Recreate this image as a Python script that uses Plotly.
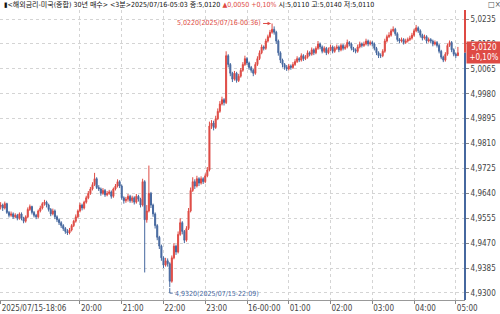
import plotly.graph_objects as go
import pandas as pd

# ---------------- data ----------------
start_time = "2025-07-15 18:06"
n_candles = 220
times = pd.date_range(start_time, periods=n_candles, freq="3min")

opens = [
    4.9595, 4.9600, 4.9590, 4.9605, 4.9575, 4.9565, 4.9570, 4.9560, 4.9565, 4.9555,
    4.9570, 4.9555, 4.9545, 4.9560, 4.9585, 4.9595, 4.9575, 4.9565, 4.9560, 4.9580,
    4.9590, 4.9605, 4.9610, 4.9600, 4.9585, 4.9570, 4.9580, 4.9560, 4.9550, 4.9540,
    4.9530, 4.9520, 4.9510, 4.9505, 4.9515, 4.9530, 4.9545, 4.9560, 4.9580, 4.9600,
    4.9590, 4.9610, 4.9625, 4.9640, 4.9655, 4.9670, 4.9690, 4.9660, 4.9655, 4.9640,
    4.9650, 4.9635, 4.9640, 4.9645, 4.9630, 4.9655, 4.9665, 4.9680, 4.9665, 4.9625,
    4.9615, 4.9620, 4.9630, 4.9615, 4.9625, 4.9610, 4.9630, 4.9620, 4.9600, 4.9680,
    4.9550, 4.9580, 4.9640, 4.9600, 4.9570, 4.9530, 4.9490, 4.9460, 4.9420, 4.9395,
    4.9410, 4.9400, 4.9340, 4.9420, 4.9460, 4.9440, 4.9500, 4.9540, 4.9510, 4.9480,
    4.9520, 4.9580, 4.9650, 4.9680, 4.9665, 4.9690, 4.9675, 4.9690, 4.9680, 4.9700,
    4.9720, 4.9870, 4.9880, 4.9865, 4.9895, 4.9920, 4.9945, 4.9960, 4.9950, 5.0110,
    5.0080, 5.0050, 5.0030, 5.0050, 5.0025, 5.0040, 5.0060, 5.0080, 5.0100, 5.0085,
    5.0070, 5.0060, 5.0050, 5.0080, 5.0100, 5.0120, 5.0140, 5.0135, 5.0160, 5.0175,
    5.0190, 5.0200, 5.0190, 5.0160, 5.0120, 5.0095, 5.0080, 5.0070, 5.0065, 5.0075,
    5.0070, 5.0080, 5.0090, 5.0100, 5.0095, 5.0110, 5.0100, 5.0105, 5.0120, 5.0115,
    5.0130, 5.0120, 5.0135, 5.0150, 5.0140, 5.0125, 5.0135, 5.0120, 5.0130, 5.0140,
    5.0125, 5.0135, 5.0140, 5.0130, 5.0145, 5.0135, 5.0140, 5.0155, 5.0150, 5.0135,
    5.0130, 5.0125, 5.0140, 5.0150, 5.0145, 5.0150, 5.0160, 5.0150, 5.0155, 5.0150,
    5.0135, 5.0120, 5.0110, 5.0110, 5.0125, 5.0160, 5.0175, 5.0180, 5.0195, 5.0200,
    5.0185, 5.0165, 5.0160, 5.0165, 5.0155, 5.0160, 5.0165, 5.0170, 5.0180, 5.0195,
    5.0205, 5.0195, 5.0180, 5.0170, 5.0175, 5.0160, 5.0165, 5.0160, 5.0150, 5.0155,
    5.0145, 5.0125, 5.0105, 5.0095, 5.0115, 5.0145, 5.0155, 5.0130, 5.0115, 5.0110,
]

highs = [
    4.9610, 4.9605, 4.9612, 4.9608, 4.9580, 4.9578, 4.9575, 4.9572, 4.9570, 4.9575,
    4.9575, 4.9560, 4.9565, 4.9592, 4.9602, 4.9598, 4.9580, 4.9570, 4.9585, 4.9598,
    4.9610, 4.9618, 4.9615, 4.9605, 4.9590, 4.9588, 4.9585, 4.9565, 4.9555, 4.9545,
    4.9535, 4.9525, 4.9518, 4.9522, 4.9535, 4.9550, 4.9568, 4.9585, 4.9608, 4.9605,
    4.9615, 4.9632, 4.9648, 4.9662, 4.9678, 4.9710, 4.9695, 4.9668, 4.9660, 4.9658,
    4.9655, 4.9648, 4.9652, 4.9650, 4.9660, 4.9672, 4.9688, 4.9685, 4.9670, 4.9630,
    4.9628, 4.9638, 4.9635, 4.9632, 4.9630, 4.9638, 4.9635, 4.9625, 4.9690, 4.9685,
    4.9600, 4.9735, 4.9645, 4.9605, 4.9575, 4.9535, 4.9495, 4.9465, 4.9425, 4.9420,
    4.9418, 4.9405, 4.9428, 4.9470, 4.9465, 4.9510, 4.9555, 4.9545, 4.9515, 4.9528,
    4.9590, 4.9660, 4.9695, 4.9688, 4.9700, 4.9695, 4.9698, 4.9695, 4.9708, 4.9730,
    4.9885, 4.9890, 4.9888, 4.9905, 4.9930, 4.9955, 4.9970, 4.9965, 5.0125, 5.0115,
    5.0085, 5.0055, 5.0058, 5.0055, 5.0048, 5.0068, 5.0088, 5.0110, 5.0105, 5.0090,
    5.0075, 5.0065, 5.0088, 5.0108, 5.0128, 5.0148, 5.0145, 5.0168, 5.0182, 5.0198,
    5.0220, 5.0210, 5.0195, 5.0165, 5.0125, 5.0100, 5.0085, 5.0078, 5.0082, 5.0080,
    5.0088, 5.0098, 5.0108, 5.0105, 5.0118, 5.0115, 5.0112, 5.0128, 5.0125, 5.0138,
    5.0135, 5.0142, 5.0160, 5.0155, 5.0145, 5.0142, 5.0140, 5.0138, 5.0148, 5.0145,
    5.0142, 5.0148, 5.0145, 5.0152, 5.0150, 5.0148, 5.0165, 5.0160, 5.0155, 5.0140,
    5.0135, 5.0148, 5.0158, 5.0155, 5.0158, 5.0168, 5.0165, 5.0162, 5.0160, 5.0155,
    5.0140, 5.0125, 5.0118, 5.0132, 5.0168, 5.0182, 5.0190, 5.0202, 5.0210, 5.0205,
    5.0190, 5.0170, 5.0172, 5.0170, 5.0168, 5.0172, 5.0178, 5.0188, 5.0202, 5.0215,
    5.0210, 5.0200, 5.0185, 5.0182, 5.0180, 5.0172, 5.0170, 5.0165, 5.0162, 5.0160,
    5.0150, 5.0130, 5.0110, 5.0122, 5.0152, 5.0162, 5.0160, 5.0135, 5.0120, 5.0140,
]

lows = [
    4.9585, 4.9580, 4.9585, 4.9570, 4.9558, 4.9560, 4.9553, 4.9555, 4.9548, 4.9550,
    4.9548, 4.9538, 4.9540, 4.9555, 4.9580, 4.9568, 4.9558, 4.9552, 4.9555, 4.9575,
    4.9585, 4.9598, 4.9592, 4.9578, 4.9562, 4.9565, 4.9552, 4.9542, 4.9532, 4.9522,
    4.9512, 4.9502, 4.9498, 4.9500, 4.9510, 4.9525, 4.9540, 4.9555, 4.9575, 4.9582,
    4.9585, 4.9605, 4.9620, 4.9635, 4.9650, 4.9665, 4.9655, 4.9648, 4.9632, 4.9635,
    4.9628, 4.9630, 4.9635, 4.9622, 4.9625, 4.9650, 4.9660, 4.9658, 4.9618, 4.9605,
    4.9608, 4.9612, 4.9608, 4.9608, 4.9602, 4.9605, 4.9612, 4.9592, 4.9595, 4.9370,
    4.9540, 4.9575, 4.9590, 4.9560, 4.9520, 4.9480, 4.9450, 4.9410, 4.9385, 4.9390,
    4.9390, 4.9320, 4.9335, 4.9415, 4.9430, 4.9435, 4.9495, 4.9500, 4.9470, 4.9475,
    4.9515, 4.9575, 4.9645, 4.9655, 4.9660, 4.9665, 4.9670, 4.9672, 4.9675, 4.9695,
    4.9715, 4.9860, 4.9855, 4.9860, 4.9890, 4.9915, 4.9940, 4.9940, 4.9945, 5.0070,
    5.0040, 5.0020, 5.0025, 5.0018, 5.0020, 5.0035, 5.0055, 5.0075, 5.0078, 5.0062,
    5.0052, 5.0040, 5.0045, 5.0075, 5.0095, 5.0115, 5.0128, 5.0130, 5.0155, 5.0170,
    5.0185, 5.0182, 5.0150, 5.0110, 5.0085, 5.0070, 5.0062, 5.0058, 5.0060, 5.0062,
    5.0065, 5.0075, 5.0085, 5.0088, 5.0090, 5.0092, 5.0095, 5.0100, 5.0108, 5.0110,
    5.0112, 5.0115, 5.0130, 5.0132, 5.0118, 5.0120, 5.0112, 5.0115, 5.0125, 5.0118,
    5.0120, 5.0130, 5.0122, 5.0125, 5.0128, 5.0130, 5.0135, 5.0142, 5.0128, 5.0122,
    5.0118, 5.0120, 5.0135, 5.0138, 5.0140, 5.0145, 5.0142, 5.0145, 5.0142, 5.0128,
    5.0112, 5.0102, 5.0102, 5.0105, 5.0120, 5.0155, 5.0170, 5.0175, 5.0190, 5.0178,
    5.0158, 5.0152, 5.0155, 5.0148, 5.0150, 5.0155, 5.0160, 5.0165, 5.0175, 5.0190,
    5.0188, 5.0172, 5.0162, 5.0165, 5.0152, 5.0155, 5.0152, 5.0142, 5.0145, 5.0138,
    5.0118, 5.0098, 5.0088, 5.0090, 5.0110, 5.0140, 5.0122, 5.0108, 5.0102, 5.0110,
]

closes = [
    4.9600, 4.9590, 4.9605, 4.9575, 4.9565, 4.9570, 4.9560, 4.9565, 4.9555, 4.9570,
    4.9555, 4.9545, 4.9560, 4.9585, 4.9595, 4.9575, 4.9565, 4.9560, 4.9580, 4.9590,
    4.9605, 4.9610, 4.9600, 4.9585, 4.9570, 4.9580, 4.9560, 4.9550, 4.9540, 4.9530,
    4.9520, 4.9510, 4.9505, 4.9515, 4.9530, 4.9545, 4.9560, 4.9580, 4.9600, 4.9590,
    4.9610, 4.9625, 4.9640, 4.9655, 4.9670, 4.9690, 4.9660, 4.9655, 4.9640, 4.9650,
    4.9635, 4.9640, 4.9645, 4.9630, 4.9655, 4.9665, 4.9680, 4.9665, 4.9625, 4.9615,
    4.9620, 4.9630, 4.9615, 4.9625, 4.9610, 4.9630, 4.9620, 4.9600, 4.9680, 4.9550,
    4.9580, 4.9640, 4.9600, 4.9570, 4.9530, 4.9490, 4.9460, 4.9420, 4.9395, 4.9410,
    4.9400, 4.9340, 4.9420, 4.9460, 4.9440, 4.9500, 4.9540, 4.9510, 4.9480, 4.9520,
    4.9580, 4.9650, 4.9680, 4.9665, 4.9690, 4.9675, 4.9690, 4.9680, 4.9700, 4.9720,
    4.9870, 4.9880, 4.9865, 4.9895, 4.9920, 4.9945, 4.9960, 4.9950, 5.0110, 5.0080,
    5.0050, 5.0030, 5.0050, 5.0025, 5.0040, 5.0060, 5.0080, 5.0100, 5.0085, 5.0070,
    5.0060, 5.0050, 5.0080, 5.0100, 5.0120, 5.0140, 5.0135, 5.0160, 5.0175, 5.0190,
    5.0200, 5.0190, 5.0160, 5.0120, 5.0095, 5.0080, 5.0070, 5.0065, 5.0075, 5.0070,
    5.0080, 5.0090, 5.0100, 5.0095, 5.0110, 5.0100, 5.0105, 5.0120, 5.0115, 5.0130,
    5.0120, 5.0135, 5.0150, 5.0140, 5.0125, 5.0135, 5.0120, 5.0130, 5.0140, 5.0125,
    5.0135, 5.0140, 5.0130, 5.0145, 5.0135, 5.0140, 5.0155, 5.0150, 5.0135, 5.0130,
    5.0125, 5.0140, 5.0150, 5.0145, 5.0150, 5.0160, 5.0150, 5.0155, 5.0150, 5.0135,
    5.0120, 5.0110, 5.0110, 5.0125, 5.0160, 5.0175, 5.0180, 5.0195, 5.0200, 5.0185,
    5.0165, 5.0160, 5.0165, 5.0155, 5.0160, 5.0165, 5.0170, 5.0180, 5.0195, 5.0205,
    5.0195, 5.0180, 5.0170, 5.0175, 5.0160, 5.0165, 5.0160, 5.0150, 5.0155, 5.0145,
    5.0125, 5.0105, 5.0095, 5.0115, 5.0145, 5.0155, 5.0130, 5.0115, 5.0110, 5.0120,
]

y_tick_values = [4.9300, 4.9385, 4.9470, 4.9555, 4.9640, 4.9725, 4.9810,
                 4.9895, 4.9980, 5.0065, 5.0150, 5.0235]
x_tick_times = ["2025-07-15 18:06", "2025-07-15 20:00", "2025-07-15 21:00",
                "2025-07-15 22:00", "2025-07-15 23:00", "2025-07-16 00:00",
                "2025-07-16 01:00", "2025-07-16 02:00", "2025-07-16 03:00",
                "2025-07-16 04:00", "2025-07-16 05:00"]
x_tick_labels = ["2025/07/15-18:06", "20:00", "21:00", "22:00", "23:00",
                 "16-00:00", "01:00", "02:00", "03:00", "04:00", "05:00"]

header_left = "▮<해외금리-미국(종합) 30년 매수> <3분>2025/07/16-05:03 종:5,0120"
header_change = "▲0,0050 +0,10%"
header_right = "시:5,0110 고:5,0140 저:5,0110"
last_change_pct = "+0,10%"

# ---------------- style ----------------
RED = "#de4a44"
BLUE = "#46689f"
GRID = "#d4d4d4"
TXT = "#444444"
FONT = "Liberation Sans Narrow, DejaVu Sans Condensed, Noto Sans CJK KR, sans-serif"
PLOT_W = 465.0


def fmt(v):
    return f"{v:.4f}".replace(".", ",")


n = min(len(opens), len(highs), len(lows), len(closes), len(times))
t = times[:n]

fig = go.Figure()
fig.add_trace(go.Candlestick(
    x=t, open=opens[:n], high=highs[:n], low=lows[:n], close=closes[:n],
    increasing=dict(line=dict(color=RED, width=1), fillcolor=RED),
    decreasing=dict(line=dict(color=BLUE, width=1), fillcolor=BLUE),
    whiskerwidth=0, showlegend=False, hoverinfo="skip",
))

step = pd.Timedelta(minutes=3)
x_lo = t[0] - 0.3 * step
x_hi = t[0] + 222.4 * step
y_lo, y_hi = 4.9276, 5.0266

i_hi = max(range(n), key=lambda k: highs[k])
i_lo = min(range(n), key=lambda k: lows[k])
last = closes[n - 1]

# peak label with arrow
fig.add_annotation(
    x=t[i_hi], y=highs[i_hi], xref="x", yref="y",
    text=f"{fmt(highs[i_hi])}({t[i_hi].strftime('%Y/%m/%d-%H:%M')})",
    showarrow=True, arrowhead=2, arrowsize=0.7, arrowwidth=1, arrowcolor=RED,
    ax=-9, ay=0, standoff=1, xanchor="right", yanchor="middle",
    font=dict(family=FONT, size=7, color=RED),
)
# trough label with bracket
fig.add_annotation(
    x=t[i_lo], y=lows[i_lo], xref="x", yref="y",
    text=f"{fmt(lows[i_lo])}({t[i_lo].strftime('%Y/%m/%d-%H:%M')})",
    showarrow=False, xanchor="left", yanchor="middle", xshift=3, yshift=-7,
    font=dict(family=FONT, size=7, color=BLUE),
)
fig.add_shape(
    type="path", xref="x", yref="y", xsizemode="pixel", ysizemode="pixel",
    xanchor=t[i_lo], yanchor=lows[i_lo], path="M0,-1 L0,-6 L3,-6",
    line=dict(color=BLUE, width=1),
)

# right axis line: red above last price, blue below
fig.add_shape(type="line", xref="paper", yref="y", x0=1, x1=1, y0=last, y1=y_hi,
              line=dict(color=RED, width=2))
fig.add_shape(type="line", xref="paper", yref="y", x0=1, x1=1, y0=y_lo, y1=last,
              line=dict(color=BLUE, width=2))

# last price tag
fig.add_annotation(
    x=1, xref="paper", y=last, yref="y", xanchor="left", yanchor="middle",
    text=f"{fmt(last)}<br>{last_change_pct}", showarrow=False, align="center",
    bgcolor=RED, width=32, borderpad=1, xshift=1,
    font=dict(family=FONT, size=8, color="white"),
)

# header line
fig.add_annotation(
    x=2 / PLOT_W, xref="paper", y=1, yref="paper", xanchor="left",
    yanchor="bottom", yshift=-1, showarrow=False, align="left",
    text=(f"{header_left} <span style='color:{RED}'>{header_change}</span> "
          f"{header_right}"),
    font=dict(family=FONT, size=7, color="#111111"),
)
fig.add_annotation(
    x=486 / PLOT_W, xref="paper", y=1, yref="paper", xanchor="left",
    yanchor="bottom", yshift=-1, showarrow=False, text="□×",
    font=dict(family=FONT, size=8, color="#555555"),
)

fig.update_layout(
    width=500, height=314,
    margin=dict(l=0, r=35, t=10, b=14, pad=0),
    paper_bgcolor="white", plot_bgcolor="white",
    font=dict(family=FONT, size=8, color=TXT),
    xaxis=dict(
        range=[x_lo, x_hi], rangeslider=dict(visible=False),
        tickvals=pd.to_datetime(x_tick_times), ticktext=x_tick_labels,
        ticks="outside", ticklen=3, tickcolor="#888888",
        ticklabelposition="outside right",
        showgrid=True, gridcolor=GRID, griddash="dot", gridwidth=1,
        showline=True, linecolor="#999999", linewidth=1,
        tickfont=dict(family=FONT, size=8, color=TXT), zeroline=False,
    ),
    yaxis=dict(
        side="right", range=[y_lo, y_hi],
        tickvals=y_tick_values, ticktext=[fmt(v) for v in y_tick_values],
        ticks="outside", ticklen=3, tickcolor="#888888",
        showgrid=True, gridcolor=GRID, griddash="dot", gridwidth=1,
        showline=False, zeroline=False,
        tickfont=dict(family=FONT, size=8, color=TXT),
    ),
)

fig.write_html("out.html")
